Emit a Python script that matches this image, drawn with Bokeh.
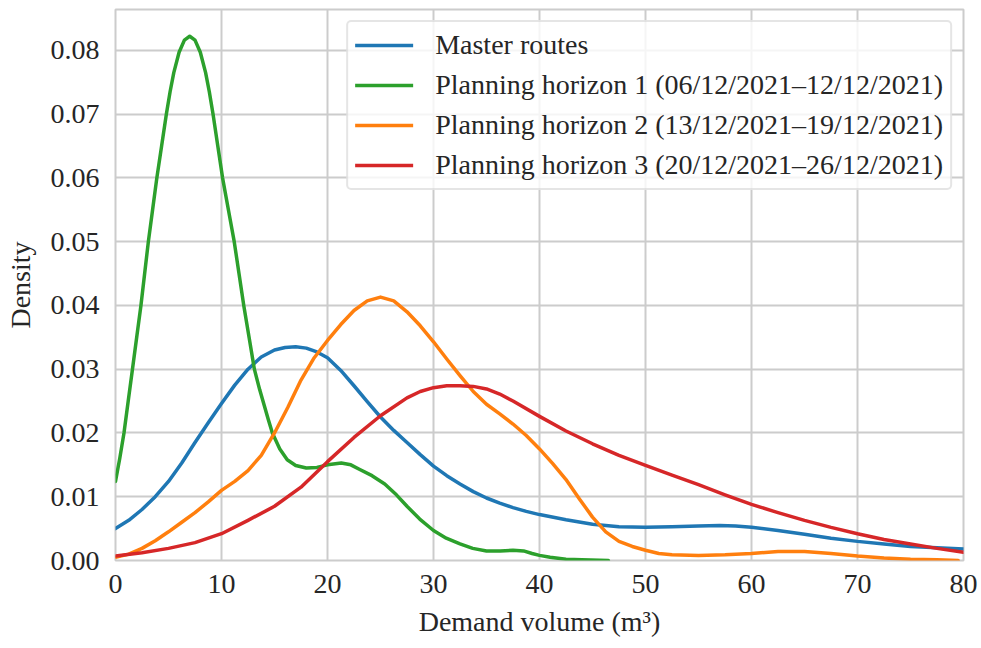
from bokeh.plotting import figure
from bokeh.models import FixedTicker, NumeralTickFormatter, Range1d, Legend, LegendItem
from bokeh.embed import file_html
from bokeh.resources import INLINE

# ---- data ----
master_x = [0, 1.25, 2.5, 3.75, 5, 6.25, 7.5, 8.75, 10, 11.25, 12.5, 13.75, 15, 16, 17, 18,
            19, 20, 21.25, 22.5, 23.75, 25, 26.25, 27.5, 28.75, 30, 31.25, 32.5, 33.75, 35,
            36.25, 37.5, 38.75, 40, 42.5, 45, 47.5, 50, 52.5, 55, 57, 58.5, 60, 62.5, 65,
            67.5, 70, 72.5, 75, 77.5, 80]
master_y = [0.0050, 0.0063, 0.0080, 0.0100, 0.0124, 0.0153, 0.0185, 0.0216, 0.0246, 0.0275,
            0.0300, 0.0319, 0.0330, 0.0334, 0.0335, 0.0333, 0.0327, 0.0318, 0.0298, 0.0274,
            0.0249, 0.0225, 0.0204, 0.0185, 0.0166, 0.0148, 0.0133, 0.0120, 0.0108, 0.0098,
            0.0090, 0.0083, 0.0077, 0.0072, 0.0064, 0.0057, 0.0053, 0.0052, 0.0053, 0.0054,
            0.0055, 0.0054, 0.0052, 0.0047, 0.0041, 0.0035, 0.0030, 0.0026, 0.0022, 0.0020,
            0.0018]

h1_x = [0, 0.4, 0.8, 1.2, 1.6, 2.0, 2.4, 2.75, 3.1, 3.5, 3.9, 4.35, 4.8, 5.15, 5.5, 6.0, 6.5,
        7.0, 7.5, 8.0, 8.5, 8.85, 9.2, 9.65, 10.1, 10.65, 11.2, 11.65, 12.1, 12.6, 13.1, 13.6,
        14.0, 14.4, 14.8, 15.5, 16.2, 17.0, 18.0, 19.0, 20.0, 21.3, 22.2, 23.0, 24.2, 25.4,
        26.5, 27.5, 28.7, 30.0, 31.2, 32.5, 33.7, 35.0, 36.3, 37.5, 38.5, 39.3, 40.0, 41.0,
        42.5, 44.0, 46.5]
h1_y = [0.0124, 0.0160, 0.0200, 0.0250, 0.0300, 0.0350, 0.0400, 0.0450, 0.0500, 0.0550,
        0.0600, 0.0650, 0.0700, 0.0735, 0.0765, 0.0797, 0.0816, 0.0822, 0.0816, 0.0797,
        0.0765, 0.0735, 0.0700, 0.0650, 0.0600, 0.0550, 0.0500, 0.0450, 0.0400, 0.0350,
        0.0300, 0.0268, 0.0245, 0.0222, 0.0200, 0.0175, 0.0158, 0.0149, 0.0145, 0.0146,
        0.0150, 0.0153, 0.0150, 0.0143, 0.0133, 0.0120, 0.0103, 0.0085, 0.0065, 0.0047,
        0.0035, 0.0026, 0.0019, 0.0015, 0.0015, 0.0016, 0.0015, 0.0011, 0.0008, 0.0005,
        0.0002, 0.0001, 0.0000]

h2_x = [0, 1.25, 2.5, 3.75, 5, 6.25, 7.5, 8.75, 10, 11.25, 12.5, 13.75, 15, 16.25, 17.5,
        18.75, 20, 21.25, 22.5, 23.75, 25, 26.25, 27.5, 28.75, 30, 31.25, 32.5, 33.75, 35,
        36.25, 37.5, 38.75, 40, 41.25, 42.5, 43.75, 45, 46.25, 47.5, 48.75, 50, 51.25, 52.5,
        55, 57.5, 60, 62.5, 65, 67.5, 70, 72.5, 75, 77.5, 79.5]
h2_y = [0.0005, 0.0010, 0.0019, 0.0031, 0.0045, 0.0060, 0.0075, 0.0092, 0.0110, 0.0124,
        0.0141, 0.0165, 0.0200, 0.0240, 0.0283, 0.0318, 0.0345, 0.0370, 0.0392, 0.0407,
        0.0413, 0.0407, 0.0390, 0.0368, 0.0343, 0.0316, 0.0290, 0.0265, 0.0245, 0.0230,
        0.0214, 0.0196, 0.0175, 0.0152, 0.0127, 0.0097, 0.0068, 0.0045, 0.0030, 0.0022,
        0.0016, 0.0011, 0.0009, 0.0008, 0.0009, 0.0011, 0.0014, 0.0014, 0.0011, 0.0007,
        0.0004, 0.0002, 0.0001, 0.0000]

h3_x = [0, 2.5, 5, 7.5, 10, 12.5, 15, 17.5, 20, 22.5, 25, 27.5, 28.75, 30, 31.25, 32.5,
        33.75, 35, 36.25, 37.5, 40, 42.5, 45, 47.5, 50, 52.5, 55, 57.5, 60, 62.5, 65, 67.5,
        70, 72.5, 75, 77.5, 80]
h3_y = [0.0007, 0.0012, 0.0019, 0.0028, 0.0042, 0.0063, 0.0085, 0.0115, 0.0155, 0.0193,
        0.0227, 0.0255, 0.0265, 0.0271, 0.0274, 0.0274, 0.0273, 0.0269, 0.0261, 0.0250,
        0.0226, 0.0203, 0.0183, 0.0165, 0.0149, 0.0134, 0.0119, 0.0103, 0.0088, 0.0075,
        0.0063, 0.0052, 0.0042, 0.0033, 0.0026, 0.0019, 0.0013]

labels = ["Master routes",
          "Planning horizon 1 (06/12/2021\u201312/12/2021)",
          "Planning horizon 2 (13/12/2021\u201319/12/2021)",
          "Planning horizon 3 (20/12/2021\u201326/12/2021)"]
colors = ["#1f77b4", "#2ca02c", "#ff7f0e", "#d62728"]
x_ticks = [0, 10, 20, 30, 40, 50, 60, 70, 80]
y_ticks = [0.00, 0.01, 0.02, 0.03, 0.04, 0.05, 0.06, 0.07, 0.08]

FONT = "Liberation Serif"
FS = "28px"
TXT = "#262626"
GRID = "#cccccc"

p = figure(width=981, height=648, output_backend="svg", toolbar_location=None,
           x_range=Range1d(0, 80), y_range=Range1d(0, 0.0864),
           min_border_left=115, min_border_right=18, min_border_top=9, min_border_bottom=88)
p.background_fill_color = "white"
p.border_fill_color = "white"
p.outline_line_color = GRID
p.outline_line_width = 2

series = [(master_x, master_y), (h1_x, h1_y), (h2_x, h2_y), (h3_x, h3_y)]
renderers = []
for (xs, ys), c in zip(series, colors):
    r = p.line(xs, ys, line_color=c, line_width=3.5, line_join="round", line_cap="round")
    renderers.append(r)

for ax in (p.xaxis[0], p.yaxis[0]):
    ax.axis_line_color = None
    ax.major_tick_line_color = None
    ax.minor_tick_line_color = None
    ax.major_tick_out = 0
    ax.major_tick_in = 0
    ax.major_label_text_font = FONT
    ax.major_label_text_font_size = FS
    ax.major_label_text_color = TXT
    ax.axis_label_text_font = FONT
    ax.axis_label_text_font_size = FS
    ax.axis_label_text_font_style = "normal"
    ax.axis_label_text_color = TXT

p.xaxis.ticker = FixedTicker(ticks=x_ticks)
p.yaxis.ticker = FixedTicker(ticks=y_ticks)
p.yaxis.formatter = NumeralTickFormatter(format="0.00")
p.xaxis.axis_label = "Demand volume (m\u00b3)"
p.yaxis.axis_label = "Density"
p.yaxis.major_label_standoff = 16
p.xaxis.major_label_standoff = 14
p.yaxis.axis_label_standoff = 12
p.xaxis.axis_label_standoff = 10

p.xgrid.grid_line_color = GRID
p.ygrid.grid_line_color = GRID
p.xgrid.grid_line_width = 2
p.ygrid.grid_line_width = 2

legend = Legend(items=[LegendItem(label=l, renderers=[r]) for l, r in zip(labels, renderers)],
                location="top_right")
legend.margin = 11
legend.padding = 7
legend.spacing = 8
legend.glyph_width = 58
legend.glyph_height = 32
legend.label_height = 32
legend.label_standoff = 22
legend.label_text_font = FONT
legend.label_text_font_size = FS
legend.label_text_color = TXT
legend.border_line_color = GRID
legend.border_line_width = 2
legend.border_radius = 5
legend.background_fill_color = "white"
legend.background_fill_alpha = 0.8
p.add_layout(legend)

open("out.html", "w").write(file_html(p, INLINE))
